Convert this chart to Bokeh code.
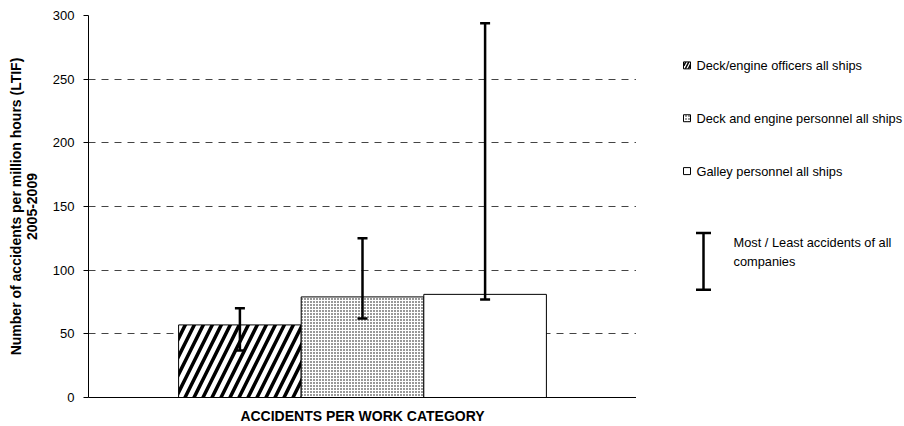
from bokeh.plotting import figure
from bokeh.models import (ColumnDataSource, FactorRange, Range1d, Whisker, TeeHead,
                          FixedTicker, LinearAxis)
from bokeh.layouts import row
from bokeh.core.properties import value
from bokeh.embed import file_html
from bokeh.resources import INLINE

# ---- data ----
series = ["Deck/engine officers all ships",
          "Deck and engine personnel all ships",
          "Galley personnel all ships"]
ltif = [57, 79, 81]
most = [70, 125, 294]
least = [37, 62, 77]
y_ticks = [0, 50, 100, 150, 200, 250, 300]
x_title = "ACCIDENTS PER WORK CATEGORY"
y_title = ["Number of accidents per million hours (LTIF)", "2005-2009"]
err_label = ["Most / Least accidents of all", "companies"]

hatches = ["right_diagonal_line", "dot", " "]
hatch_scales = [18, 3, 1]
hatch_weights = [3.5, 1, 1]
legend_hatch_scales = [6, 3, 1]

FONT_NAME = "Liberation Sans"
FONT = value(FONT_NAME)

src = ColumnDataSource(dict(x=series, top=ltif, upper=most, lower=least))

p = figure(width=636, height=426, x_range=FactorRange(*series, range_padding=0.49),
           y_range=Range1d(0, 300), output_backend="svg", toolbar_location=None,
           min_border_left=88, min_border_right=0, min_border_top=15, min_border_bottom=28)
p.outline_line_color = None
p.background_fill_color = "white"

for i, s in enumerate(series):
    p.vbar(x=[s], top=[ltif[i]], width=1.0, fill_color="white", line_color="black",
           line_width=1, hatch_pattern=hatches[i], hatch_scale=hatch_scales[i],
           hatch_weight=hatch_weights[i], hatch_color="black")

w = Whisker(base="x", upper="upper", lower="lower", source=src, line_width=2.5,
            line_color="black", level="overlay",
            upper_head=TeeHead(size=10, line_width=2.5, line_color="black"),
            lower_head=TeeHead(size=10, line_width=2.5, line_color="black"))
p.add_layout(w)

p.xgrid.grid_line_color = None
p.ygrid.grid_line_color = "#444444"
p.ygrid.grid_line_dash = "7 6"
p.ygrid.grid_line_width = 1
p.ygrid.ticker = FixedTicker(ticks=y_ticks[1:])

p.yaxis.ticker = FixedTicker(ticks=y_ticks)
p.yaxis.major_tick_out = 5
p.yaxis.major_tick_in = 0
p.yaxis.minor_tick_line_color = None
p.yaxis.major_label_standoff = 9
p.yaxis.major_label_text_font = FONT_NAME
p.yaxis.major_label_text_font_size = "13px"
p.yaxis.major_label_text_color = "black"
p.yaxis.axis_label = y_title[1]
p.yaxis.axis_label_text_font = FONT_NAME
p.yaxis.axis_label_text_font_size = "14px"
p.yaxis.axis_label_text_font_style = "bold"
p.yaxis.axis_label_text_color = "black"
p.yaxis.axis_label_standoff = 13
p.yaxis.axis_line_color = "black"

# outer axis carrying only the first line of the y title
outer = LinearAxis(ticker=FixedTicker(ticks=[]), axis_line_color=None,
                   major_tick_out=0, major_tick_in=0, minor_tick_out=0, minor_tick_in=0,
                   major_label_text_font_size="0px", major_label_standoff=0,
                   axis_label=y_title[0], axis_label_standoff=0,
                   axis_label_text_font=FONT_NAME, axis_label_text_font_size="14px",
                   axis_label_text_font_style="bold", axis_label_text_color="black")
p.add_layout(outer, "left")

p.xaxis.major_tick_out = 0
p.xaxis.major_tick_in = 0
p.xaxis.major_label_text_font_size = "0px"
p.xaxis.major_label_standoff = 0
p.xaxis.axis_label = x_title
p.xaxis.axis_label_text_font = FONT_NAME
p.xaxis.axis_label_text_font_size = "14px"
p.xaxis.axis_label_text_font_style = "bold"
p.xaxis.axis_label_text_color = "black"
p.xaxis.axis_label_standoff = 10
p.xaxis.axis_line_color = "black"

# ---- legend panel (coordinates in page pixels; frame aligned with main plot) ----
lg = figure(width=268, height=426, x_range=Range1d(636, 904), y_range=Range1d(398, 15),
            output_backend="svg", toolbar_location=None, x_axis_type=None, y_axis_type=None,
            min_border_left=0, min_border_right=0, min_border_top=15, min_border_bottom=28)
lg.outline_line_color = None
lg.grid.visible = False

item_y0, item_step = 65, 53
for i, s in enumerate(series):
    yy = item_y0 + i * item_step
    lg.rect(x=[686.5], y=[yy], width=7, height=7, fill_color="white", line_color="black",
            line_width=1, hatch_pattern=hatches[i], hatch_scale=legend_hatch_scales[i],
            hatch_weight=1.5 if i == 0 else 1, hatch_color="black")
    lg.text(x=[696], y=[yy], text=[s], text_baseline="middle", text_align="left",
            text_font=FONT, text_font_size="12.8px", text_color="black")

# error bar legend symbol
ex, ey0, ey1 = 703, 233, 290
lg.segment(x0=[ex], y0=[ey0], x1=[ex], y1=[ey1], line_color="black", line_width=2.5)
lg.segment(x0=[ex - 7.5, ex - 7.5], y0=[ey0, ey1], x1=[ex + 7.5, ex + 7.5], y1=[ey0, ey1],
           line_color="black", line_width=2.5)
lg.text(x=[733] * len(err_label), y=[243 + 19 * k for k in range(len(err_label))],
        text=err_label, text_baseline="middle", text_align="left", text_font=FONT,
        text_font_size="12.8px", text_color="black")

layout = row(p, lg)
open("out.html", "w").write(file_html(layout, INLINE))
